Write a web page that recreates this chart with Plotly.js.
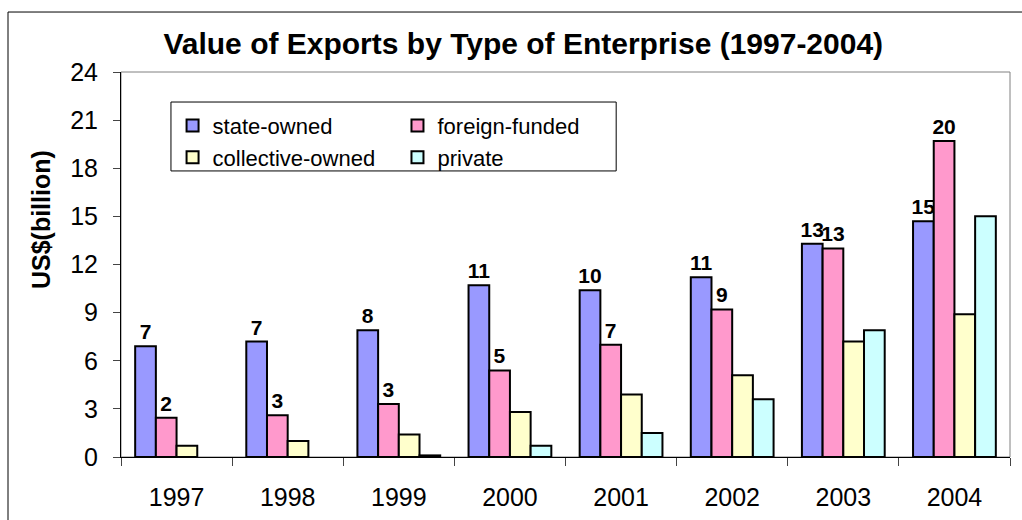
<!DOCTYPE html>
<html>
<head>
<meta charset="utf-8">
<script src="https://cdn.plot.ly/plotly-3.0.1.min.js"></script>
<style>
  html, body { margin: 0; padding: 0; background: #fff; }
  #chart { width: 1022px; height: 520px; }
</style>
</head>
<body>
<div id="chart"></div>
<script>
var years = ["1997", "1998", "1999", "2000", "2001", "2002", "2003", "2004"];
var stateOwned = [6.9, 7.2, 7.9, 10.7, 10.4, 11.2, 13.3, 14.7];
var foreignFunded = [2.45, 2.6, 3.3, 5.4, 7.0, 9.2, 13.0, 19.7];
var collectiveOwned = [0.7, 1.0, 1.4, 2.8, 3.9, 5.1, 7.2, 8.9];
var privateOwned = [null, null, 0.1, 0.7, 1.5, 3.6, 7.9, 15.0];

var font = "Liberation Sans, Arial, sans-serif";
var edge = { color: "#000", width: 2 };
var labelFont = { family: font, size: 21, color: "#000", weight: "bold" };

var data = [
    { type: "bar", name: "state-owned", x: years, y: stateOwned,
      marker: { color: "#9999FF", line: edge },
      texttemplate: "%{y:.0f}", textposition: "outside", textfont: labelFont,
      constraintext: "none", cliponaxis: false, legend: "legend", hoverinfo: "x+y" },
    { type: "bar", name: "foreign-funded", x: years, y: foreignFunded,
      marker: { color: "#FF99CC", line: edge },
      texttemplate: "%{y:.0f}", textposition: "outside", textfont: labelFont,
      constraintext: "none", cliponaxis: false, legend: "legend2", hoverinfo: "x+y" },
    { type: "bar", name: "collective-owned", x: years, y: collectiveOwned,
      marker: { color: "#FFFFCC", line: edge },
      legend: "legend", hoverinfo: "x+y" },
    { type: "bar", name: "private", x: years, y: privateOwned,
      marker: { color: "#CCFFFF", line: edge },
      legend: "legend2", hoverinfo: "x+y" }
];

var legendBase = {
    yanchor: "top", xanchor: "left", y: 0.915,
    bgcolor: "rgba(0,0,0,0)", borderwidth: 0,
    font: { family: font, size: 22, color: "#000" },
    traceorder: "normal"
};

var layout = {
    width: 1022, height: 520,
    margin: { l: 121, r: 12, t: 72, b: 63 },
    paper_bgcolor: "#fff", plot_bgcolor: "#fff",
    barmode: "group", bargap: 0.255, bargroupgap: 0,
    title: {
        text: "Value of Exports by Type of Enterprise (1997-2004)",
        font: { family: font, size: 30, color: "#000", weight: "bold" },
        xref: "container", x: 0.512, xanchor: "center",
        yref: "container", y: 0.916, yanchor: "middle"
    },
    xaxis: {
        type: "category", showgrid: false, zeroline: false,
        showline: true, linecolor: "#000", linewidth: 1,
        ticks: "outside", tickson: "boundaries", ticklen: 8, tickcolor: "#444",
        tickfont: { family: font, size: 25, color: "#000" },
        ticklabelstandoff: 18
    },
    yaxis: {
        range: [0, 24], dtick: 3, showgrid: false, zeroline: false,
        showline: true, linecolor: "#000", linewidth: 1,
        ticks: "outside", ticklen: 7, tickcolor: "#444",
        tickfont: { family: font, size: 25, color: "#000" },
        ticklabelstandoff: 10
    },
    showlegend: true,
    legend: Object.assign({ x: 0.058 }, legendBase),
    legend2: Object.assign({ x: 0.311 }, legendBase),
    annotations: [{
        text: "<b>US$(billion)</b>", textangle: -90,
        xref: "paper", yref: "paper", x: -0.09, y: 0.618,
        xanchor: "center", yanchor: "middle", showarrow: false,
        font: { family: font, size: 25, color: "#000" }
    }],
    shapes: [
        { type: "rect", xref: "paper", yref: "paper", x0: 0, x1: 1, y0: 0, y1: 1,
          line: { color: "#808080", width: 1 }, layer: "below" },
        { type: "rect", xref: "paper", yref: "paper", x0: 0.0562, x1: 0.557, y0: 0.743, y1: 0.922,
          line: { color: "#000", width: 1 }, fillcolor: "rgba(0,0,0,0)" },
        { type: "rect", xref: "paper", yref: "paper", x0: -0.1271, x1: 1.1, y0: -0.3, y1: 1.1558,
          line: { color: "#000", width: 1 }, fillcolor: "rgba(0,0,0,0)" }
    ]
};

Plotly.newPlot("chart", data, layout, { displayModeBar: false, staticPlot: true });
</script>
</body>
</html>
